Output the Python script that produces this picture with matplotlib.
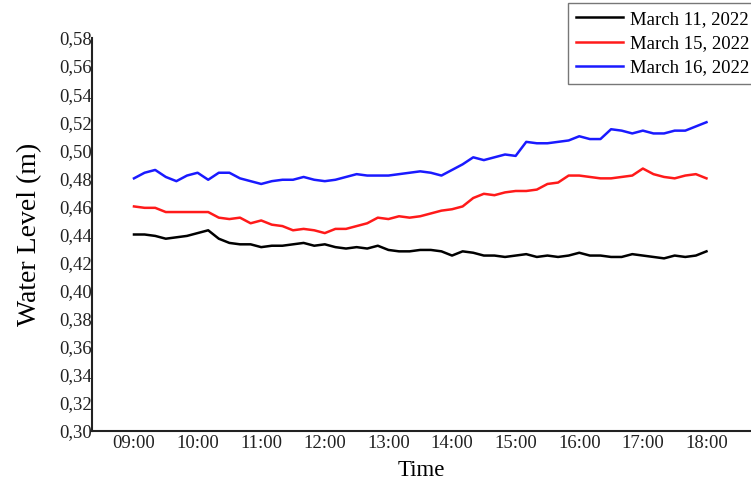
import matplotlib
matplotlib.use("Agg")
import matplotlib.pyplot as plt
from matplotlib.ticker import FuncFormatter, FixedLocator
import numpy as np

plt.rcParams['font.family'] = ['Liberation Serif', 'DejaVu Serif']

# Time: 09:00 to 18:00 every 10 minutes (hours)
times = [9 + i / 6 for i in range(55)]

march11 = [0.440, 0.440, 0.439, 0.437, 0.438, 0.439,
           0.441, 0.443, 0.437, 0.434, 0.433, 0.433,
           0.431, 0.432, 0.432, 0.433, 0.434, 0.432,
           0.433, 0.431, 0.430, 0.431, 0.430, 0.432,
           0.429, 0.428, 0.428, 0.429, 0.429, 0.428,
           0.425, 0.428, 0.427, 0.425, 0.425, 0.424,
           0.425, 0.426, 0.424, 0.425, 0.424, 0.425,
           0.427, 0.425, 0.425, 0.424, 0.424, 0.426,
           0.425, 0.424, 0.423, 0.425, 0.424, 0.425,
           0.428]

march15 = [0.460, 0.459, 0.459, 0.456, 0.456, 0.456,
           0.456, 0.456, 0.452, 0.451, 0.452, 0.448,
           0.450, 0.447, 0.446, 0.443, 0.444, 0.443,
           0.441, 0.444, 0.444, 0.446, 0.448, 0.452,
           0.451, 0.453, 0.452, 0.453, 0.455, 0.457,
           0.458, 0.460, 0.466, 0.469, 0.468, 0.470,
           0.471, 0.471, 0.472, 0.476, 0.477, 0.482,
           0.482, 0.481, 0.480, 0.480, 0.481, 0.482,
           0.487, 0.483, 0.481, 0.480, 0.482, 0.483,
           0.480]

march16 = [0.480, 0.484, 0.486, 0.481, 0.478, 0.482,
           0.484, 0.479, 0.484, 0.484, 0.480, 0.478,
           0.476, 0.478, 0.479, 0.479, 0.481, 0.479,
           0.478, 0.479, 0.481, 0.483, 0.482, 0.482,
           0.482, 0.483, 0.484, 0.485, 0.484, 0.482,
           0.486, 0.490, 0.495, 0.493, 0.495, 0.497,
           0.496, 0.506, 0.505, 0.505, 0.506, 0.507,
           0.510, 0.508, 0.508, 0.515, 0.514, 0.512,
           0.514, 0.512, 0.512, 0.514, 0.514, 0.517,
           0.520]

series_labels = ["March 11, 2022", "March 15, 2022", "March 16, 2022"]
colors = ["black", "#ff1a1a", "#1a1aff"]

tick_hours = list(range(9, 19))
tick_labels = [f"{h:02d}:00" for h in tick_hours]
ytick_vals = [round(0.30 + 0.02 * i, 2) for i in range(15)]

fig = plt.figure(figsize=(7.51, 4.83), dpi=100)
ax = fig.add_axes([92 / 751, 1 - 431 / 483, 1 - 92 / 751, (431 - 38) / 483])

for vals, lab, c in zip([march11, march15, march16], series_labels, colors):
    ax.plot(times, vals, color=c, lw=1.8, label=lab)

ax.set_xlim(9 - 0.66, 9 + 9.7)
ax.set_ylim(0.30, 0.58)
ax.xaxis.set_major_locator(FixedLocator(tick_hours))
ax.set_xticklabels(tick_labels)
ax.yaxis.set_major_locator(FixedLocator(ytick_vals))
ax.yaxis.set_major_formatter(FuncFormatter(lambda v, p: f"{v:.2f}".replace('.', ',')))
ax.tick_params(axis='both', length=0, labelsize=13.5, colors='#222222')
ax.tick_params(axis='y', pad=0)
ax.tick_params(axis='x', pad=3)

for s in ['top', 'right']:
    ax.spines[s].set_visible(False)
for s in ['left', 'bottom']:
    ax.spines[s].set_linewidth(1.5)
    ax.spines[s].set_color('#222222')

ax.set_xlabel("Time", fontsize=16.5, labelpad=6)
ax.set_ylabel("Water Level (m)", fontsize=20, labelpad=12)

leg = fig.legend(loc='upper right', bbox_to_anchor=(1.0 + 6 / 751, 1 - 3 / 483),
                 frameon=True, fancybox=False, fontsize=13.5, borderaxespad=0,
                 handlelength=2.5, handletextpad=0.35, borderpad=0.42,
                 labelspacing=0.38)
leg.get_frame().set_edgecolor('#555555')
leg.get_frame().set_linewidth(1.0)

fig.savefig("out.png", dpi=100)
